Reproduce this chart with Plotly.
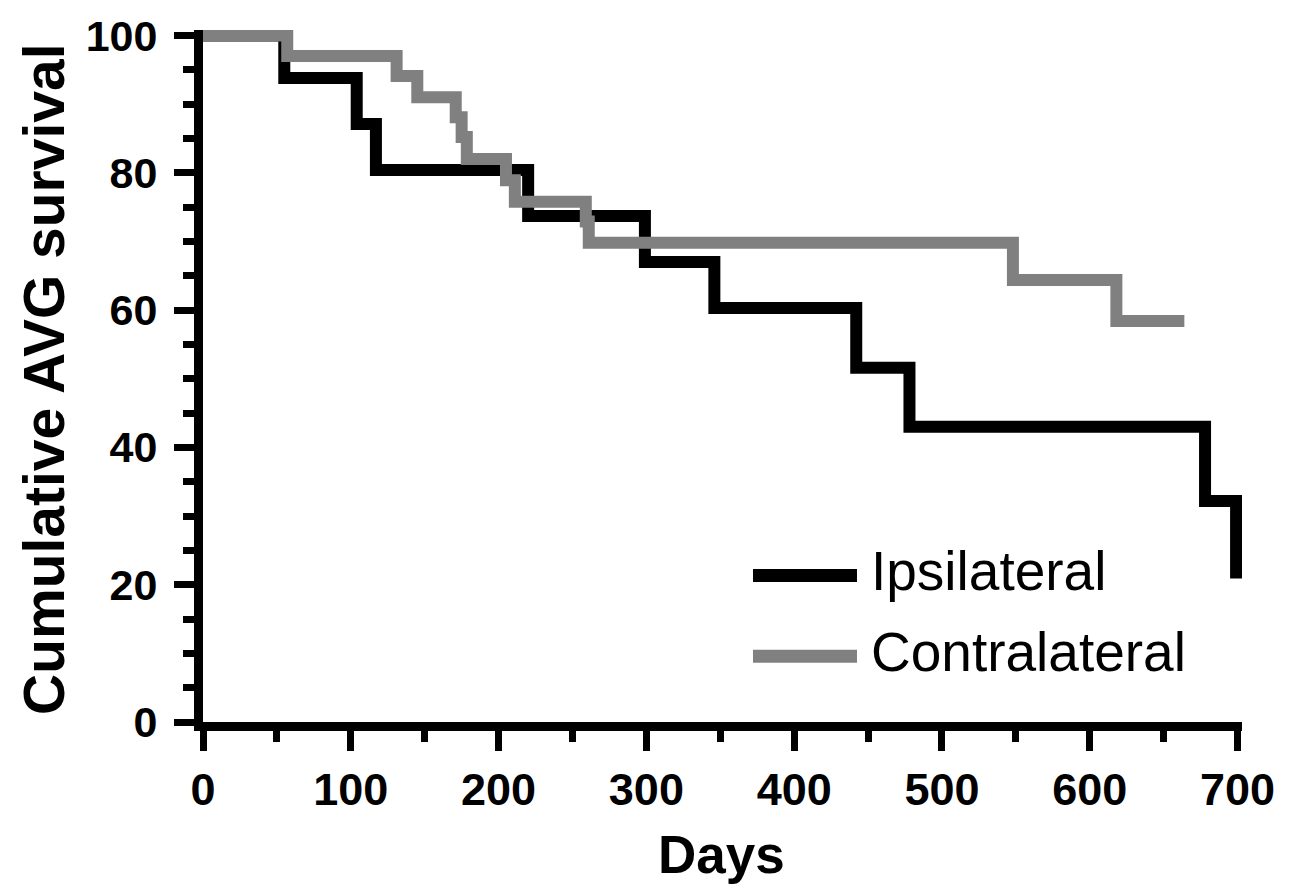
import plotly.graph_objects as go

# Kaplan-Meier style step data
ipsi_days = [0, 55, 104, 117, 220, 299, 346, 442, 478, 678, 699]
ipsi_surv = [100, 93.8, 87.1, 80.4, 73.7, 67.0, 60.3, 51.6, 43.0, 32.2, 20.9]

contra_days = [0, 57, 131, 145, 171, 175, 178.5, 205, 211, 259, 261, 548, 618, 664]
contra_surv = [100, 97.0, 94.1, 91.0, 88.1, 85.2, 82.0, 78.9, 75.8, 72.9, 69.8, 64.4, 58.4, 58.4]

series_names = ["Ipsilateral", "Contralateral"]
series_colors = ["#000000", "#808080"]

x_ticks = [0, 100, 200, 300, 400, 500, 600, 700]
y_ticks = [0, 20, 40, 60, 80, 100]

W, H = 1300, 888
L, R, T, B = 203, 58, 28, 166
PW, PH = W - L - R, H - T - B


def px(xp):
    return (xp - L) / PW


def py(yp):
    return (H - B - yp) / PH


FONT = "Liberation Sans, Arial, Helvetica, sans-serif"

fig = go.Figure()
fig.add_trace(go.Scatter(x=ipsi_days, y=ipsi_surv, mode="lines", line_shape="hv",
                         line=dict(color=series_colors[0], width=12),
                         name=series_names[0], showlegend=False))
fig.add_trace(go.Scatter(x=contra_days, y=contra_surv, mode="lines", line_shape="hv",
                         line=dict(color=series_colors[1], width=12),
                         name=series_names[1], showlegend=False))

axis_common = dict(showline=True, linecolor="black", linewidth=9, showgrid=False,
                   zeroline=False, ticks="outside", tickcolor="black", tickwidth=7,
                   ticklen=20)

fig.update_xaxes(range=[0, 703], tickvals=x_ticks,
                 tickfont=dict(family=FONT, size=45, color="black", weight="bold"),
                 minor=dict(dtick=50, tick0=0, ticks="outside", ticklen=11, tickwidth=7,
                            tickcolor="black"),
                 **axis_common)
fig.update_yaxes(range=[0, 100.8], tickvals=y_ticks,
                 tickfont=dict(family=FONT, size=43, color="black", weight="bold"),
                 ticklabelstandoff=8,
                 minor=dict(dtick=5, tick0=0, ticks="outside", ticklen=11, tickwidth=7,
                            tickcolor="black"),
                 **axis_common)

annotations = [
    dict(text="Days", x=px(721), y=py(855), xref="paper", yref="paper",
         xanchor="center", yanchor="middle", showarrow=False,
         font=dict(family=FONT, size=53, color="black", weight="bold")),
    dict(text="Cumulative AVG survival", x=px(44), y=py(378), xref="paper", yref="paper",
         xanchor="center", yanchor="middle", textangle=-90, showarrow=False,
         font=dict(family=FONT, size=57, color="black", weight="bold")),
]
shapes = []
legend_y = [575, 656]
text_y = [571, 652]
for name, color, ly, ty in zip(series_names, series_colors, legend_y, text_y):
    shapes.append(dict(type="line", xref="paper", yref="paper",
                       x0=px(753), x1=px(857), y0=py(ly), y1=py(ly),
                       line=dict(color=color, width=13)))
    annotations.append(dict(text=name, x=px(869), y=py(ty), xref="paper", yref="paper",
                            xanchor="left", yanchor="middle", showarrow=False,
                            font=dict(family=FONT, size=55, color="black")))

fig.update_layout(width=W, height=H, margin=dict(l=L, r=R, t=T, b=B),
                  plot_bgcolor="white", paper_bgcolor="white",
                  annotations=annotations, shapes=shapes, showlegend=False)

fig.write_html("out.html", config={"displayModeBar": False},
               post_script="document.body.style.margin='0';")
